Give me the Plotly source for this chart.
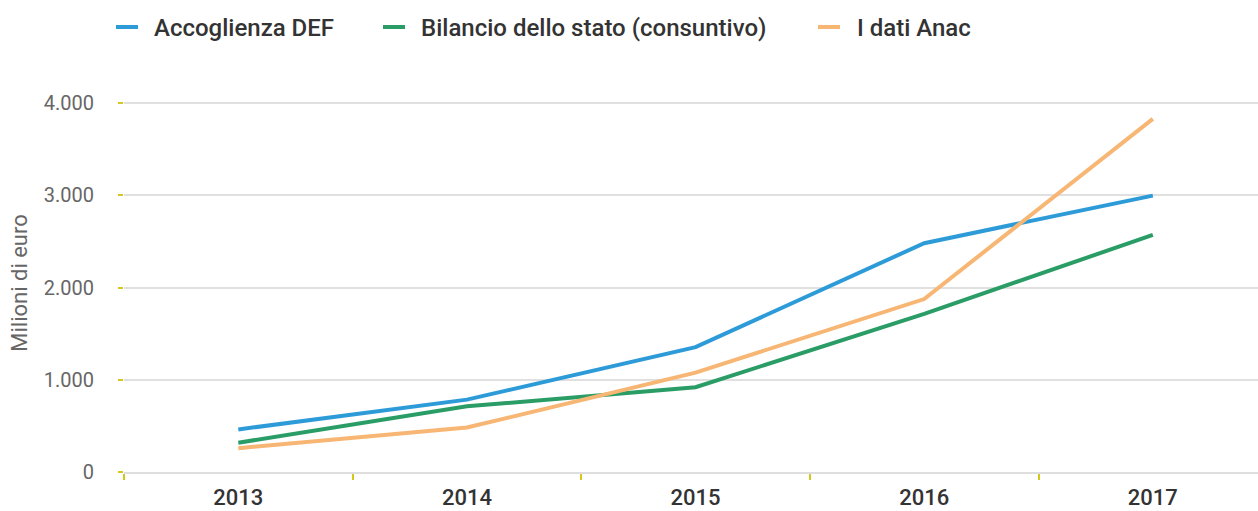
import plotly.graph_objects as go

years = ["2013", "2014", "2015", "2016", "2017"]
accoglienza_def = [462, 785, 1355, 2482, 2998]
bilancio_stato = [318, 712, 920, 1715, 2572]
dati_anac = [258, 482, 1078, 1876, 3830]

series_names = ["Accoglienza DEF", "Bilancio dello stato (consuntivo)", "I dati Anac"]
series_values = [accoglienza_def, bilancio_stato, dati_anac]
series_colors = ["#2e9bd9", "#2a9d66", "#f7b673"]

y_ticks = [0, 1000, 2000, 3000, 4000]
y_title = "Milioni di euro"

W, H = 1258, 511
L, R, T, B = 124, 0, 94, 39
FONT = "Roboto"

fig = go.Figure()
for name, vals, col in zip(series_names, series_values, series_colors):
    fig.add_trace(go.Scatter(x=years, y=vals, name=name, mode="lines",
                             line=dict(color=col, width=4), showlegend=False,
                             hoverinfo="x+y+name"))

# custom legend (pixel placement converted to paper coords)
pw, ph = W - L - R, H - T - B
def px_x(p):
    return (p - L) / pw
def px_y(p):
    return (H - B - p) / ph

legend_bar_x = [116, 383, 818]
legend_text_x = [152, 419, 855]
legend_y = 27
shapes = []
annotations = []
for name, col, bx, tx in zip(series_names, series_colors, legend_bar_x, legend_text_x):
    shapes.append(dict(type="line", xref="paper", yref="paper",
                       x0=px_x(bx), x1=px_x(bx + 22), y0=px_y(legend_y), y1=px_y(legend_y),
                       line=dict(color=col, width=4)))
    annotations.append(dict(text=name, xref="paper", yref="paper", x=px_x(tx), y=px_y(legend_y + 1),
                            xanchor="left", yanchor="middle", showarrow=False,
                            font=dict(family=FONT, size=24, color="#333333", weight=500)))

fig.update_layout(
    width=W, height=H,
    margin=dict(l=L, r=R, t=T, b=B, pad=0),
    paper_bgcolor="white", plot_bgcolor="white",
    separators=",.",
    showlegend=False,
    shapes=shapes,
    annotations=annotations,
    font=dict(family=FONT),
)
fig.update_xaxes(
    type="category", range=[-0.5, 4.46],
    tickson="boundaries", ticks="outside", ticklen=6, tickwidth=2, tickcolor="#d6c71c",
    showline=True, linecolor="#dedede", linewidth=2,
    showgrid=False, zeroline=False,
    tickfont=dict(family=FONT, size=22, color="#333333", weight=500),
    ticklabelstandoff=5,
)
fig.update_yaxes(
    range=[0, 4100], tickvals=y_ticks, tickformat=",d",
    ticks="outside", ticklen=5, tickwidth=2, tickcolor="#d6c71c",
    showgrid=True, gridcolor="#e0e0e0", gridwidth=2, zeroline=False,
    tickfont=dict(family=FONT, size=20, color="#666666"),
    ticklabelstandoff=20,
    title=dict(text=y_title, font=dict(family=FONT, size=22, color="#666666"), standoff=10),
)

fig.write_html("out.html", config={"displayModeBar": False},
               post_script="document.body.style.margin='0';")
